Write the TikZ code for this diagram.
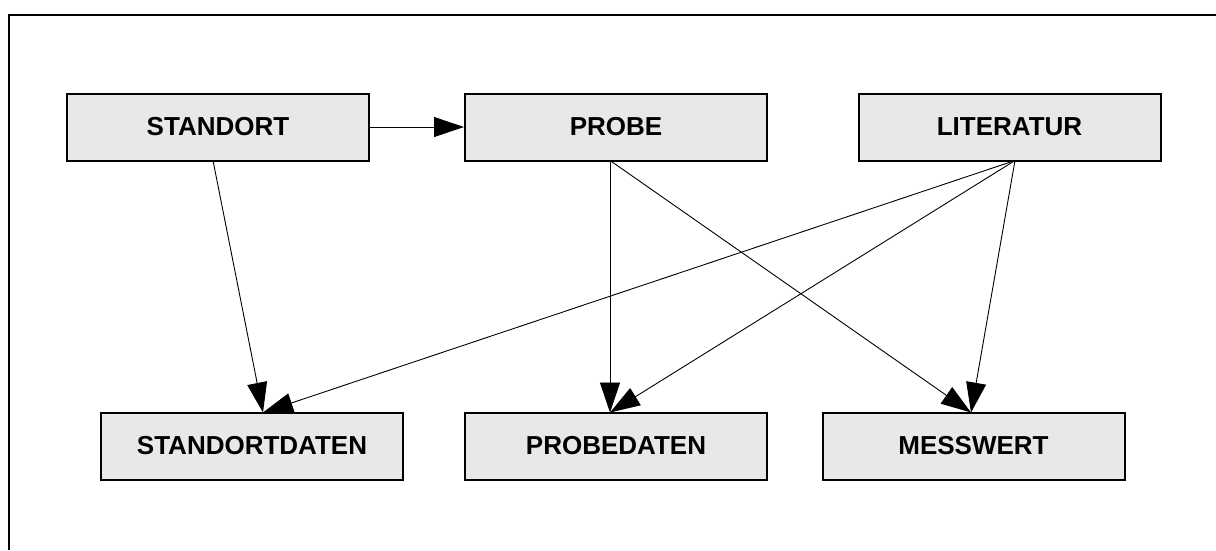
\documentclass[tikz,border=0pt]{standalone}
\usepackage{fontspec}
\setmainfont{Liberation Sans}
\usetikzlibrary{arrows.meta}
\definecolor{boxgray}{HTML}{E8E8E8}
\tikzset{
  ent/.style={draw=black, line width=2pt, fill=boxgray, minimum width=302pt, minimum height=67pt, inner sep=0pt, font=\fontsize{26}{30}\selectfont\bfseries},
  rel/.style={line width=0.9pt, -{Triangle[length=30pt,width=20pt]}, shorten >=0pt}
}
\begin{document}
\begin{tikzpicture}[x=1pt,y=-1pt]
\useasboundingbox (0,0) rectangle (1216,550);
\draw[line width=2pt] (8.5,550) -- (8.5,15) -- (1216,15);
\node[ent] (standort) at (218,127) {STANDORT};
\node[ent] (probe) at (616,127) {PROBE};
\node[ent] (literatur) at (1009.5,127) {LITERATUR};
\node[ent] (standortdaten) at (252,446) {STANDORTDATEN};
\node[ent] (probedaten) at (616,446) {PROBEDATEN};
\node[ent] (messwert) at (973.5,446) {MESSWERT};
\coordinate (sdtop) at (263,412.5);
\coordinate (pdtop) at (610,412.5);
\coordinate (mwtop) at (971,412.5);
\coordinate (stbot) at (213,160.5);
\coordinate (pbot) at (610,160.5);
\coordinate (lbot) at (1015,160.5);
\draw[rel] (standort.east) -- (probe.west);
\draw[rel] (stbot) -- (sdtop);
\draw[rel] (lbot) -- (sdtop);
\draw[rel] (pbot) -- (pdtop);
\draw[rel] (lbot) -- (pdtop);
\draw[rel] (pbot) -- (mwtop);
\draw[rel] (lbot) -- (mwtop);
\end{tikzpicture}
\end{document}
